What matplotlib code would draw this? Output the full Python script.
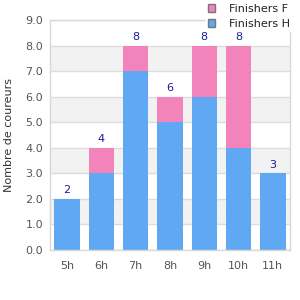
import matplotlib
matplotlib.use("Agg")
import matplotlib.pyplot as plt
from matplotlib.patches import Patch

categories = ["5h", "6h", "7h", "8h", "9h", "10h", "11h"]
finishers_h = [2, 3, 7, 5, 6, 4, 3]
finishers_f = [0, 1, 1, 1, 2, 4, 0]
yticks = [0, 1, 2, 3, 4, 5, 6, 7, 8, 9]

blue = "#60a8f4"
pink = "#f283bb"

fig = plt.figure(figsize=(3, 3), dpi=100)
ax = fig.add_axes([50/300, 50/300, 240/300, 230/300])

x = list(range(len(categories)))
for i in range(0, 9):
    if i % 2 == 1:
        ax.axhspan(i, i + 1, color="#f2f2f2", zorder=0, lw=0)
for t in yticks:
    ax.axhline(t, color="#dddddd", lw=1, zorder=0.5)

ax.bar(x, finishers_h, width=0.74, color=blue, zorder=2)
ax.bar(x, finishers_f, width=0.74, bottom=finishers_h, color=pink, zorder=2)
for i in x:
    tot = finishers_h[i] + finishers_f[i]
    ax.text(i, tot + 0.15, str(tot), ha="center", va="bottom", fontsize=8, color="#1a1a99", zorder=3)

ax.set_xlim(-0.5, len(categories) - 0.5)
ax.set_ylim(0, 9)
ax.set_yticks(yticks)
ax.set_yticklabels([f"{t:.1f}" for t in yticks])
ax.set_xticks(x)
ax.set_xticklabels(categories)
ax.tick_params(axis="both", length=0, labelsize=8, labelcolor="#555555")
ax.tick_params(axis="x", pad=8)
ax.tick_params(axis="y", pad=5)
for s in ax.spines.values():
    s.set_color("#d8d8d8")
    s.set_linewidth(1)
ax.set_ylabel("Nombre de coureurs", fontsize=8, color="#333333", labelpad=8)

handles = [Patch(facecolor=pink, edgecolor="#777777", label="Finishers F"),
           Patch(facecolor=blue, edgecolor="#777777", label="Finishers H")]
leg = fig.legend(handles=handles, loc="upper right", bbox_to_anchor=(0.99, 1.01),
                 frameon=True, fontsize=8, handlelength=0.7, handleheight=0.7,
                 handletextpad=1.2, labelspacing=0.45, borderpad=0.15)
leg.get_frame().set_edgecolor("white")
leg.get_frame().set_facecolor("white")
leg.get_frame().set_alpha(1)
leg.get_frame().set_boxstyle("square", pad=0)
for t in leg.get_texts():
    t.set_color("#222222")

fig.savefig("out.png", dpi=100)
